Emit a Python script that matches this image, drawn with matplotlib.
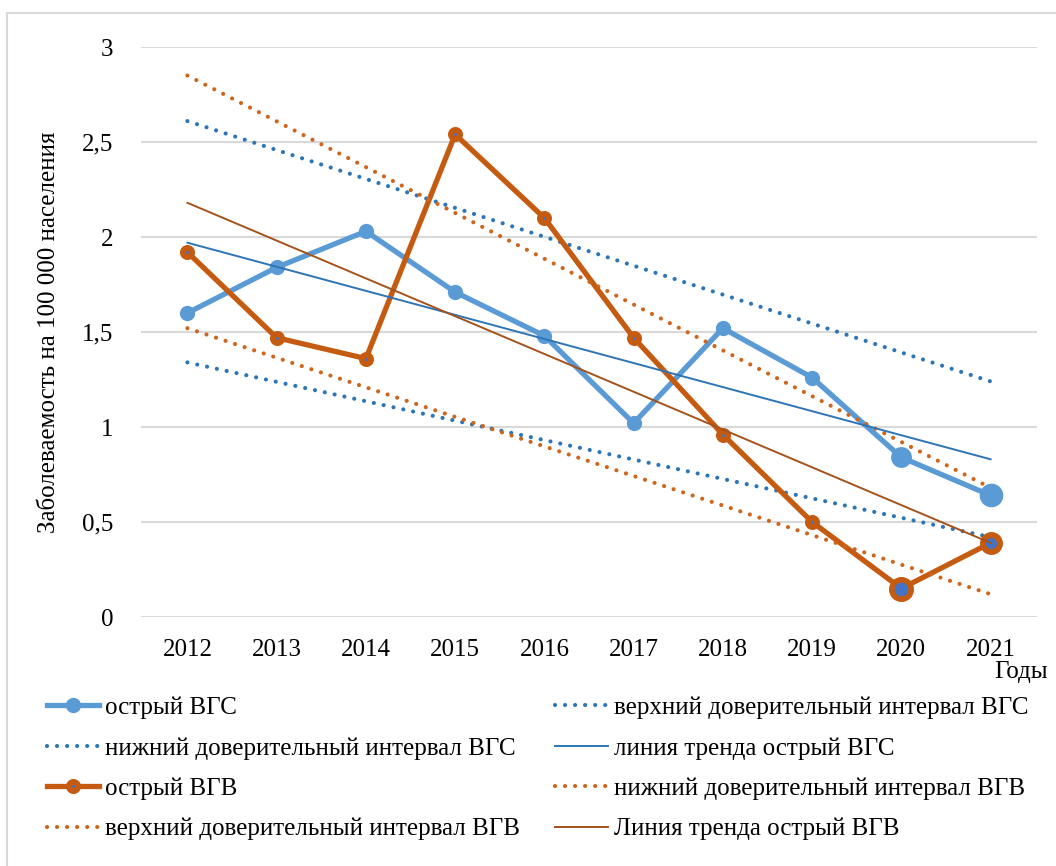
import matplotlib.pyplot as plt
from matplotlib.lines import Line2D
from matplotlib.patches import Rectangle

years = ["2012", "2013", "2014", "2015", "2016", "2017", "2018", "2019", "2020", "2021"]
hcv = [1.60, 1.84, 2.03, 1.71, 1.48, 1.02, 1.52, 1.26, 0.84, 0.64]
hev = [1.92, 1.47, 1.36, 2.54, 2.10, 1.47, 0.96, 0.50, 0.15, 0.39]

# trend lines and confidence bounds, values at 2012 and 2021
hcv_trend = [1.97, 0.83]
hcv_upper = [2.61, 1.24]
hcv_lower = [1.34, 0.42]
hev_trend = [2.18, 0.39]
hev_upper = [2.85, 0.68]
hev_lower = [1.52, 0.12]

plt.rcParams['font.family'] = ['Liberation Serif', 'DejaVu Serif']

BLUE = "#5B9BD5"
BLUE_DK = "#2E75B6"
ORANGE = "#C55A11"
ORANGE_DOT = "#CD651C"
BROWN = "#A5521B"
INNER = "#4472C4"
FS = 18

fig = plt.figure(figsize=(10.56, 8.66), dpi=100)
ax = fig.add_axes([141 / 1056, (866 - 617) / 866, (1037 - 141) / 1056, 570 / 866])

x = list(range(len(years)))
ends = [x[0], x[-1]]
dots = dict(linestyle=(0, (0.01, 2.4)), dash_capstyle='round', linewidth=3.0)

ax.plot(x, hcv, color=BLUE, linewidth=3.8, solid_capstyle='round', zorder=3)
blue_sizes = [11] * 8 + [15, 17]
for xi, yi, s in zip(x, hcv, blue_sizes):
    ax.plot(xi, yi, marker='o', markersize=s, color=BLUE, markeredgewidth=0, zorder=3)

ax.plot(ends, hcv_upper, color=BLUE_DK, zorder=4, **dots)
ax.plot(ends, hcv_lower, color=BLUE_DK, zorder=4, **dots)

ax.plot(x, hev, color=ORANGE, linewidth=3.8, solid_capstyle='round', zorder=5)
o_size = [6.5] * 8 + [14, 12.3]
o_mew = [4.3] * 8 + [4.0, 4.2]
for xi, yi, s, w in zip(x, hev, o_size, o_mew):
    ax.plot(xi, yi, marker='o', markersize=s, markerfacecolor=INNER,
            markeredgecolor=ORANGE, markeredgewidth=w, zorder=5)

ax.plot(ends, hev_lower, color=ORANGE_DOT, zorder=6, **dots)
ax.plot(ends, hev_upper, color=ORANGE_DOT, zorder=6, **dots)

ax.plot(ends, hcv_trend, color=BLUE_DK, linewidth=1.4, zorder=7)
ax.plot(ends, hev_trend, color=BROWN, linewidth=1.4, zorder=7)

ax.set_xlim(-0.52, 9.52)
ax.set_ylim(0, 3)
ax.set_yticks([0, 0.5, 1, 1.5, 2, 2.5, 3])
ax.set_yticklabels(["0", "0,5", "1", "1,5", "2", "2,5", "3"])
ax.set_xticks(x)
ax.set_xticklabels(years)
ax.tick_params(length=0, labelsize=FS, pad=16)
ax.tick_params(axis='y', pad=20)
ax.grid(axis='y', color='#D9D9D9', linewidth=1.5)
ax.set_axisbelow(True)
for sp in ax.spines.values():
    sp.set_visible(False)

ax.set_ylabel("Заболеваемость на 100 000 населения", fontsize=FS, labelpad=16)
fig.text(1021 / 1056, (866 - 672) / 866, "Годы", fontsize=FS, ha='center', va='center')

handles = [
    Line2D([], [], color=BLUE, linewidth=3.8, marker='o', markersize=11, markeredgewidth=0),
    Line2D([], [], color=BLUE_DK, **dots),
    Line2D([], [], color=ORANGE, linewidth=3.8, marker='o', markersize=6.5,
           markerfacecolor=INNER, markeredgecolor=ORANGE, markeredgewidth=4.3),
    Line2D([], [], color=ORANGE_DOT, **dots),
    Line2D([], [], color=BLUE_DK, **dots),
    Line2D([], [], color=BLUE_DK, linewidth=1.4),
    Line2D([], [], color=ORANGE_DOT, **dots),
    Line2D([], [], color=BROWN, linewidth=1.4),
]
labels = [
    "острый ВГС",
    "нижний доверительный интервал ВГС",
    "острый ВГВ",
    "верхний доверительный интервал ВГВ",
    "верхний доверительный интервал ВГС",
    "линия тренда острый ВГС",
    "нижний доверительный интервал ВГВ",
    "Линия тренда острый ВГВ",
]
fig.legend(handles, labels, ncol=2, loc='upper left', frameon=False,
           bbox_to_anchor=(34 / 1056, (866 - 684) / 866), borderpad=0,
           fontsize=FS, handlelength=2.1, handletextpad=0.25,
           columnspacing=1.4, labelspacing=0.72, numpoints=1)

fig.patches.append(Rectangle((7 / 1056, -0.05), 1.2, (866 - 13) / 866 + 0.05,
                             transform=fig.transFigure, fill=False,
                             edgecolor='#D9D9D9', linewidth=1.5))

fig.savefig("out.png", dpi=100, facecolor='white')
